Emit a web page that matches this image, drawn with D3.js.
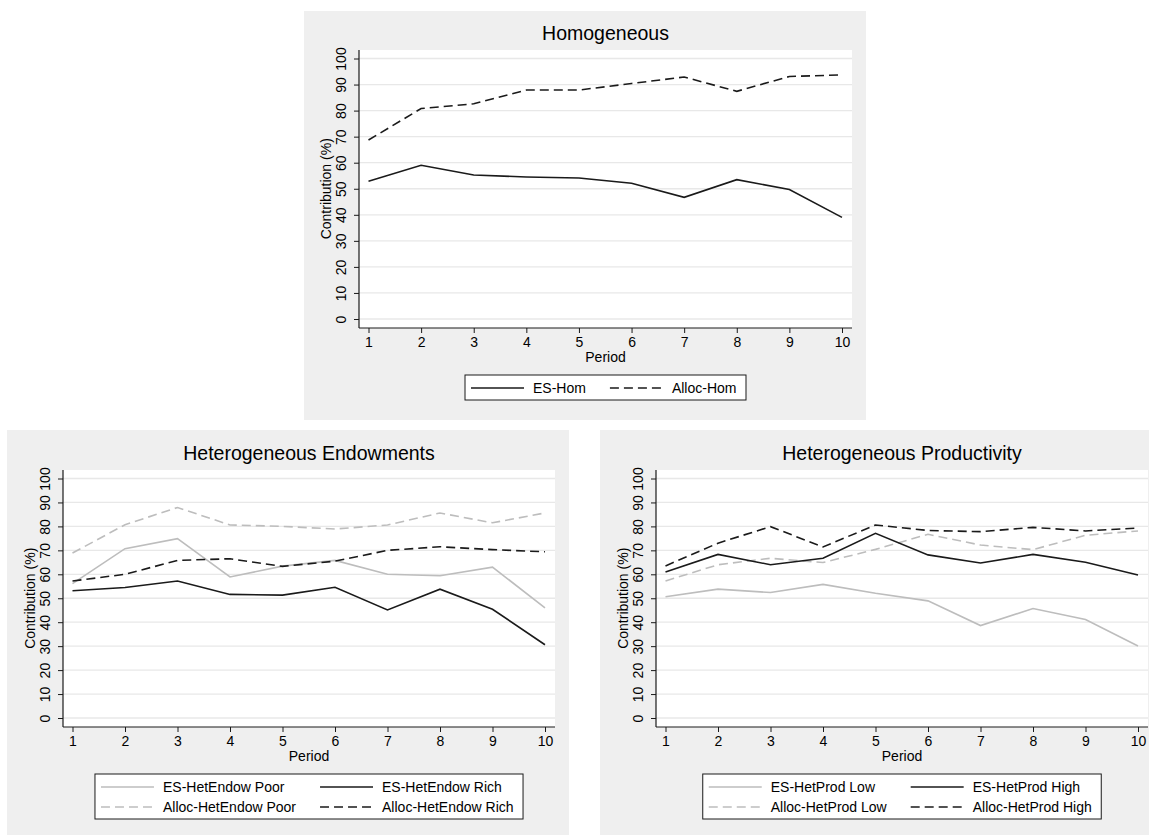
<!DOCTYPE html>
<html>
<head>
<meta charset="utf-8">
<script src="https://cdn.jsdelivr.net/npm/d3@7"></script>
<style>
  body { margin: 0; background: #fff; }
  svg { display: block; font-family: "Liberation Sans", Arial, sans-serif; }
</style>
</head>
<body>
<svg id="chart" width="1149" height="835"></svg>
<script>
// data
const periods = [1, 2, 3, 4, 5, 6, 7, 8, 9, 10]
const yTicks = [0, 10, 20, 30, 40, 50, 60, 70, 80, 90, 100]

const esHom = [52.9, 59.0, 55.3, 54.5, 54.1, 52.1, 46.7, 53.5, 49.7, 39.0]
const allocHom = [68.7, 80.8, 82.6, 87.9, 87.9, 90.4, 92.9, 87.4, 93.1, 93.7]

const esEndowPoor = [56.1, 70.7, 74.9, 58.9, 63.4, 65.8, 60.0, 59.4, 63.0, 46.0]
const esEndowRich = [53.1, 54.5, 57.2, 51.6, 51.3, 54.6, 45.1, 53.8, 45.4, 30.6]
const allocEndowPoor = [68.9, 80.7, 87.9, 80.6, 80.0, 78.9, 80.6, 85.6, 81.5, 85.6]
const allocEndowRich = [57.2, 60.0, 65.8, 66.5, 63.3, 65.5, 70.0, 71.5, 70.3, 69.4]

const esProdLow = [50.6, 53.8, 52.4, 55.8, 52.1, 48.9, 38.6, 45.7, 41.1, 30.1]
const esProdHigh = [61.0, 68.3, 64.0, 66.7, 77.1, 68.1, 64.7, 68.3, 65.0, 59.7]
const allocProdLow = [57.2, 64.0, 66.7, 64.9, 70.4, 76.7, 72.2, 70.3, 76.3, 78.1]
const allocProdHigh = [63.5, 73.0, 79.9, 71.4, 80.6, 78.3, 77.8, 79.6, 78.1, 79.3]

const BLACK = '#1a1a1a'
const GREY = '#bdbdbd'
const DASH = '9,5'

const panels = [
  {
    title: 'Homogeneous',
    bg: { x: 304, y: 11, w: 562, h: 409 },
    plot: { x: 359, y: 50, w: 493, h: 278 },
    legendCols: 2,
    series: [
      { name: 'ES-Hom', values: esHom, color: BLACK, dash: null },
      { name: 'Alloc-Hom', values: allocHom, color: BLACK, dash: DASH },
    ],
  },
  {
    title: 'Heterogeneous Endowments',
    bg: { x: 7, y: 430, w: 562, h: 405 },
    plot: { x: 63, y: 470, w: 492, h: 257 },
    legendCols: 2,
    series: [
      { name: 'ES-HetEndow Poor', values: esEndowPoor, color: GREY, dash: null },
      { name: 'ES-HetEndow Rich', values: esEndowRich, color: BLACK, dash: null },
      { name: 'Alloc-HetEndow Poor', values: allocEndowPoor, color: GREY, dash: DASH },
      { name: 'Alloc-HetEndow Rich', values: allocEndowRich, color: BLACK, dash: DASH },
    ],
  },
  {
    title: 'Heterogeneous Productivity',
    bg: { x: 600, y: 430, w: 562, h: 405 },
    plot: { x: 656, y: 470, w: 492, h: 257 },
    legendCols: 2,
    series: [
      { name: 'ES-HetProd Low', values: esProdLow, color: GREY, dash: null },
      { name: 'ES-HetProd High', values: esProdHigh, color: BLACK, dash: null },
      { name: 'Alloc-HetProd Low', values: allocProdLow, color: GREY, dash: DASH },
      { name: 'Alloc-HetProd High', values: allocProdHigh, color: BLACK, dash: DASH },
    ],
  },
]

const svg = d3.select('#chart')

panels.forEach((p) => {
  const g = svg.append('g')

  g.append('rect')
    .attr('x', p.bg.x).attr('y', p.bg.y)
    .attr('width', p.bg.w).attr('height', p.bg.h)
    .attr('fill', '#efefef')

  const left = p.plot.x
  const top = p.plot.y
  const right = p.plot.x + p.plot.w
  const bottom = p.plot.y + p.plot.h
  const cx = (left + right) / 2

  g.append('rect')
    .attr('x', left).attr('y', top)
    .attr('width', p.plot.w).attr('height', p.plot.h)
    .attr('fill', '#fff')

  const x = d3.scaleLinear().domain([1, 10]).range([left + 9.5, right - 10])
  const y = d3.scaleLinear().domain([0, 100]).range([bottom - 9, top + 8.5])

  // grid
  g.append('g').selectAll('line')
    .data(yTicks)
    .join('line')
      .attr('x1', left).attr('x2', right)
      .attr('y1', (d) => y(d)).attr('y2', (d) => y(d))
      .attr('stroke', '#e8e8e8')
      .attr('stroke-width', 1.3)

  // axes
  const xAxis = g.append('g')
    .attr('transform', `translate(0,${bottom})`)
    .call(d3.axisBottom(x).tickValues(periods).tickSize(5).tickPadding(5).tickFormat(d3.format('d')))
  xAxis.select('.domain').attr('d', `M${left},0H${right}`)

  const yAxis = g.append('g')
    .attr('transform', `translate(${left},0)`)
    .call(d3.axisLeft(y).tickValues(yTicks).tickSize(5).tickFormat(d3.format('d')))
  yAxis.select('.domain').attr('d', `M0,${top}V${bottom}`)
  yAxis.selectAll('.tick text')
    .attr('x', null).attr('dy', null)
    .attr('transform', 'translate(-13,0) rotate(-90)')
    .attr('text-anchor', 'middle')

  ;[xAxis, yAxis].forEach((a) => {
    a.attr('font-family', null).attr('font-size', null)
    a.select('.domain').attr('stroke', BLACK).attr('stroke-width', 1.2)
    a.selectAll('.tick line').attr('stroke', BLACK).attr('stroke-width', 1)
    a.selectAll('.tick text').attr('fill', '#000').style('font-size', '14px')
  })
  xAxis.selectAll('.tick text').attr('dy', null).attr('y', 19)

  g.append('text')
    .attr('x', cx).attr('y', bottom + 34)
    .attr('text-anchor', 'middle')
    .style('font-size', '14px')
    .text('Period')

  g.append('text')
    .attr('transform', `translate(${left - 28},${y(50)}) rotate(-90)`)
    .attr('text-anchor', 'middle')
    .style('font-size', '14px')
    .text('Contribution (%)')

  g.append('text')
    .attr('x', cx).attr('y', top - 10)
    .attr('text-anchor', 'middle')
    .style('font-size', '19.5px')
    .text(p.title)

  // lines
  const line = d3.line()
    .x((d, i) => x(periods[i]))
    .y((d) => y(d))

  const order = p.series.slice().sort((a, b) => (a.color === GREY ? 0 : 1) - (b.color === GREY ? 0 : 1))
  g.append('g').selectAll('path')
    .data(order)
    .join('path')
      .attr('d', (s) => line(s.values))
      .attr('fill', 'none')
      .attr('stroke', (s) => s.color)
      .attr('stroke-width', 1.6)
      .attr('stroke-dasharray', (s) => s.dash)

  // legend
  const keyLen = 53
  const keyGap = 9
  const colGap = 24
  const rowH = 20
  const padL = 6
  const padR = 9.5
  const nCols = p.legendCols
  const nRows = Math.ceil(p.series.length / nCols)

  const leg = g.append('g')
  const box = leg.append('rect')
  const items = leg.selectAll('g.item')
    .data(p.series)
    .join('g')
      .attr('class', 'item')

  items.append('line')
    .attr('x1', 0).attr('x2', keyLen)
    .attr('stroke', (s) => s.color)
    .attr('stroke-width', 1.6)
    .attr('stroke-dasharray', (s) => s.dash)

  items.append('text')
    .attr('x', keyLen + keyGap)
    .attr('y', 5)
    .style('font-size', '14px')
    .text((s) => s.name)

  const colW = d3.range(nCols).map((c) => d3.max(
    items.filter((s, i) => i % nCols === c).select('text').nodes(),
    (n) => n.getComputedTextLength(),
  ) + keyLen + keyGap)

  const boxW = padL + d3.sum(colW) + colGap * (nCols - 1) + padR
  const boxH = nRows * rowH + 5
  const boxX = cx - boxW / 2
  const boxY = bottom + 47

  box.attr('x', boxX).attr('y', boxY)
    .attr('width', boxW).attr('height', boxH)
    .attr('fill', '#fff')
    .attr('stroke', BLACK)
    .attr('stroke-width', 1)

  items.attr('transform', (s, i) => {
    const c = i % nCols
    const r = Math.floor(i / nCols)
    const ox = boxX + padL + d3.sum(colW.slice(0, c)) + colGap * c
    const oy = boxY + 13 + r * rowH
    return `translate(${ox},${oy})`
  })
})
</script>
</body>
</html>
